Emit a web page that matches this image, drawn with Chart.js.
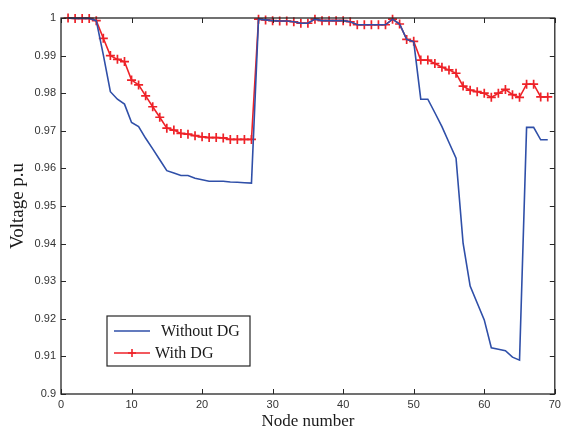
<!DOCTYPE html>
<html lang="en">
<head>
<meta charset="UTF-8">
<title>Voltage profile</title>
<script src="https://cdn.jsdelivr.net/npm/chart.js@4.4.0/dist/chart.umd.min.js"></script>
<style>
  html, body { margin: 0; padding: 0; background: #fff; }
</style>
</head>
<body>
<canvas id="myChart" width="561" height="430"></canvas>
<script>
// node numbers of the 69 bus feeder
const nodes = [1,2,3,4,5,6,7,8,9,10,11,12,13,14,15,16,17,18,19,20,21,22,23,24,25,26,27,28,29,30,
  31,32,33,34,35,36,37,38,39,40,41,42,43,44,45,46,47,48,49,50,51,52,53,54,55,56,57,58,59,60,
  61,62,63,64,65,66,67,68,69];

// voltage without DG
const withoutDG = [1.0000,0.9999,0.9999,0.9999,0.9993,0.9902,0.9804,0.9784,0.9771,0.9722,
  0.9711,0.9680,0.9652,0.9623,0.9594,0.9588,0.9581,0.9581,0.9574,0.9570,
  0.9566,0.9566,0.9566,0.9564,0.9563,0.9562,0.9561,0.9997,0.9995,0.9993,
  0.9992,0.9992,0.9990,0.9986,0.9986,0.9997,0.9993,0.9993,0.9993,0.9993,
  0.9990,0.9982,0.9982,0.9982,0.9982,0.9982,0.9997,0.9984,0.9943,0.9937,
  0.9784,0.9784,0.9748,0.9711,0.9669,0.9627,0.9401,0.9287,0.9242,0.9197,
  0.9123,0.9119,0.9115,0.9098,0.9090,0.9709,0.9709,0.9676,0.9676];

// voltage with DG
const withDG = [1.0000,0.9999,0.9999,0.9999,0.9993,0.9946,0.9900,0.9890,0.9884,0.9835,
  0.9822,0.9793,0.9764,0.9736,0.9707,0.9702,0.9693,0.9691,0.9687,0.9684,
  0.9682,0.9682,0.9681,0.9677,0.9677,0.9677,0.9677,0.9997,0.9995,0.9993,
  0.9992,0.9992,0.9990,0.9986,0.9986,0.9997,0.9993,0.9993,0.9993,0.9993,
  0.9990,0.9982,0.9982,0.9982,0.9982,0.9982,0.9997,0.9984,0.9943,0.9938,
  0.9888,0.9888,0.9879,0.9869,0.9862,0.9853,0.9819,0.9808,0.9804,0.9800,
  0.9789,0.9800,0.9810,0.9796,0.9789,0.9824,0.9824,0.9790,0.9790];

// tick values and labels
const xTicks = [0,10,20,30,40,50,60,70];
const yTicks = [0.9,0.91,0.92,0.93,0.94,0.95,0.96,0.97,0.98,0.99,1];
const yTickLabels = ['0.9','0.91','0.92','0.93','0.94','0.95','0.96','0.97','0.98','0.99','1'];

const seriesNames = ['Without DG', 'With DG'];

// MATLAB style box with inward ticks
const boxTicks = {
  id: 'boxTicks',
  afterDatasetsDraw(chart) {
    const ctx = chart.ctx, a = chart.chartArea;
    const xs = chart.scales.x, ys = chart.scales.y;
    const len = 5;
    ctx.save();
    ctx.strokeStyle = '#262626';
    ctx.lineWidth = 1;
    ctx.beginPath();
    xTicks.forEach(v => {
      const px = Math.round(xs.getPixelForValue(v)) + 0.5;
      ctx.moveTo(px, a.bottom); ctx.lineTo(px, a.bottom - len);
      ctx.moveTo(px, a.top); ctx.lineTo(px, a.top + len);
    });
    yTicks.forEach(v => {
      const py = Math.round(ys.getPixelForValue(v)) + 0.5;
      ctx.moveTo(a.left, py); ctx.lineTo(a.left + len, py);
      ctx.moveTo(a.right, py); ctx.lineTo(a.right - len, py);
    });
    ctx.stroke();
    ctx.lineWidth = 1.3;
    ctx.strokeRect(a.left, a.top, a.right - a.left, a.bottom - a.top);
    ctx.restore();
  }
};

// legend box in the lower left corner
const boxLegend = {
  id: 'boxLegend',
  afterDraw(chart) {
    const ctx = chart.ctx, a = chart.chartArea;
    const bx = a.left + 46, by = a.bottom - 78, bw = 143, bh = 50;
    ctx.save();
    ctx.fillStyle = '#fff';
    ctx.fillRect(bx, by, bw, bh);
    ctx.strokeStyle = '#262626';
    ctx.lineWidth = 1.2;
    ctx.strokeRect(bx, by, bw, bh);
    ctx.font = '16px "Liberation Serif", "Times New Roman", serif';
    ctx.textBaseline = 'middle';
    chart.data.datasets.forEach((ds, i) => {
      const y = by + 15 + i * 22;
      ctx.strokeStyle = ds.borderColor;
      ctx.lineWidth = ds.borderWidth;
      ctx.beginPath();
      ctx.moveTo(bx + 7, y); ctx.lineTo(bx + 43, y);
      ctx.stroke();
      if (ds.pointRadius > 0) {
        ctx.beginPath();
        ctx.moveTo(bx + 25 - 4, y); ctx.lineTo(bx + 25 + 4, y);
        ctx.moveTo(bx + 25, y - 4); ctx.lineTo(bx + 25, y + 4);
        ctx.stroke();
      }
      ctx.fillStyle = '#1a1a1a';
      ctx.fillText(ds.label, bx + (i === 0 ? 54 : 48), y + 1);
    });
    ctx.restore();
  }
};

const ctx = document.getElementById('myChart').getContext('2d');
const myChart = new Chart(ctx, {
  type: 'line',
  data: {
    labels: nodes,
    datasets: [{
      label: seriesNames[0],
      data: nodes.map((n, i) => ({ x: n, y: withoutDG[i] })),
      borderColor: '#2f4fa8',
      borderWidth: 1.6,
      pointRadius: 0,
      tension: 0,
      clip: false
    }, {
      label: seriesNames[1],
      data: nodes.map((n, i) => ({ x: n, y: withDG[i] })),
      borderColor: '#ee2228',
      backgroundColor: '#ee2228',
      borderWidth: 1.6,
      pointStyle: 'cross',
      pointRadius: 4.5,
      pointBorderWidth: 1.7,
      tension: 0,
      clip: false
    }]
  },
  options: {
    responsive: false,
    animation: false,
    events: [],
    layout: { padding: { top: 18, right: 5, left: 0, bottom: 0 } },
    plugins: { legend: { display: false }, tooltip: { enabled: false } },
    scales: {
      x: {
        type: 'linear',
        min: 0, max: 70,
        afterBuildTicks: s => { s.ticks = xTicks.map(v => ({ value: v })); },
        afterFit: s => { s.height = 36; s.paddingLeft = 0; s.paddingRight = 0; },
        grid: { display: false, drawTicks: false },
        border: { display: false },
        ticks: { padding: 4, color: '#333', font: { family: '"Liberation Sans", Arial, sans-serif', size: 11 }, maxRotation: 0 },
        title: { display: true, text: 'Node number', color: '#1a1a1a', padding: 0,
          font: { family: '"Liberation Serif", "Times New Roman", serif', size: 17, lineHeight: 1 } }
      },
      y: {
        min: 0.9, max: 1,
        afterBuildTicks: s => { s.ticks = yTicks.map(v => ({ value: v })); },
        afterFit: s => { s.width = 61; },
        grid: { display: false, drawTicks: false },
        border: { display: false },
        ticks: { padding: 5, color: '#333', font: { family: '"Liberation Sans", Arial, sans-serif', size: 11 },
          callback: (v, i) => yTickLabels[i] },
        title: { display: true, text: 'Voltage p.u', color: '#1a1a1a', padding: { top: 7, bottom: 0 },
          font: { family: '"Liberation Serif", "Times New Roman", serif', size: 19, lineHeight: 1.2 } }
      }
    }
  },
  plugins: [boxTicks, boxLegend]
});
</script>
</body>
</html>
